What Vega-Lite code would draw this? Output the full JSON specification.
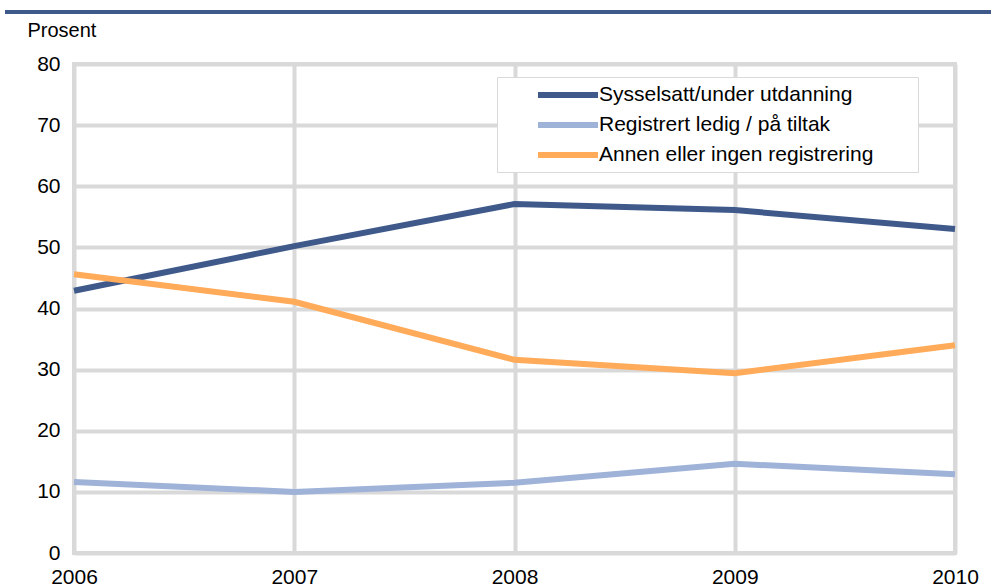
{
  "$schema": "https://vega.github.io/schema/vega-lite/v6.json",
  "width": 881,
  "height": 489,
  "autosize": {"type": "none"},
  "padding": {"left": 74, "top": 64, "right": 36, "bottom": 35},
  "config": {
    "font": "Liberation Sans",
    "view": {"stroke": "#d9d9d9", "strokeWidth": 4},
    "axis": {"labelFont": "Liberation Sans", "labelFontSize": 21, "labelColor": "#000000", "gridColor": "#d9d9d9", "gridWidth": 4, "gridOpacity": 1, "ticks": false, "domain": false}
  },
  "data": {
    "values": [
      {"year": 2006, "serie": "Sysselsatt/under utdanning", "value": 42.9},
      {"year": 2007, "serie": "Sysselsatt/under utdanning", "value": 50.2},
      {"year": 2008, "serie": "Sysselsatt/under utdanning", "value": 57.1},
      {"year": 2009, "serie": "Sysselsatt/under utdanning", "value": 56.1},
      {"year": 2010, "serie": "Sysselsatt/under utdanning", "value": 53.0},
      {"year": 2006, "serie": "Registrert ledig / på tiltak", "value": 11.6},
      {"year": 2007, "serie": "Registrert ledig / på tiltak", "value": 10.0},
      {"year": 2008, "serie": "Registrert ledig / på tiltak", "value": 11.5},
      {"year": 2009, "serie": "Registrert ledig / på tiltak", "value": 14.6},
      {"year": 2010, "serie": "Registrert ledig / på tiltak", "value": 12.9},
      {"year": 2006, "serie": "Annen eller ingen registrering", "value": 45.6},
      {"year": 2007, "serie": "Annen eller ingen registrering", "value": 41.1},
      {"year": 2008, "serie": "Annen eller ingen registrering", "value": 31.6},
      {"year": 2009, "serie": "Annen eller ingen registrering", "value": 29.4},
      {"year": 2010, "serie": "Annen eller ingen registrering", "value": 34.0}
    ]
  },
  "layer": [
    {
      "mark": {"type": "line", "strokeWidth": 6, "strokeCap": "butt"},
      "encoding": {
        "x": {"field": "year", "type": "quantitative", "scale": {"domain": [2006, 2010], "nice": false, "zero": false},
          "axis": {"values": [2006, 2007, 2008, 2009, 2010], "format": "d", "title": null, "labelPadding": 13, "labelFlush": false}},
        "y": {"field": "value", "type": "quantitative", "scale": {"domain": [0, 80], "nice": false},
          "axis": {"values": [0, 10, 20, 30, 40, 50, 60, 70, 80], "title": "Prosent", "titleAngle": 0, "titleFont": "Liberation Sans", "titleFontSize": 20, "titleFontWeight": "normal", "titleAlign": "left", "titleBaseline": "alphabetic", "titleX": -47, "titleY": -28, "labelPadding": 14}},
        "color": {"field": "serie", "type": "nominal",
          "scale": {"domain": ["Sysselsatt/under utdanning", "Registrert ledig / på tiltak", "Annen eller ingen registrering"], "range": ["#3f5a8a", "#9fb2d8", "#ffab5a"]},
          "legend": {"title": "\u00a0", "titleOrient": "right", "titleFontSize": 10, "titlePadding": 40, "orient": "none", "legendX": 423, "legendY": 13, "symbolType": "M-3,0H3", "symbolSize": 400, "symbolStrokeWidth": 6, "symbolFillColor": "transparent", "labelFontSize": 21, "labelFont": "Liberation Sans", "labelColor": "#000000", "labelLimit": 400, "labelOffset": 18, "rowPadding": 5, "padding": 5, "strokeColor": "#d9d9d9", "fillColor": "#ffffff", "symbolOffset": 53}}
      }
    },
    {
      "mark": {"type": "rule", "color": "#3f5a8a", "strokeWidth": 3, "clip": false},
      "encoding": {
        "x": {"datum": 2005.687, "type": "quantitative"},
        "x2": {"datum": 2010.17},
        "y": {"datum": 88.5, "type": "quantitative"}
      }
    }
  ]
}
